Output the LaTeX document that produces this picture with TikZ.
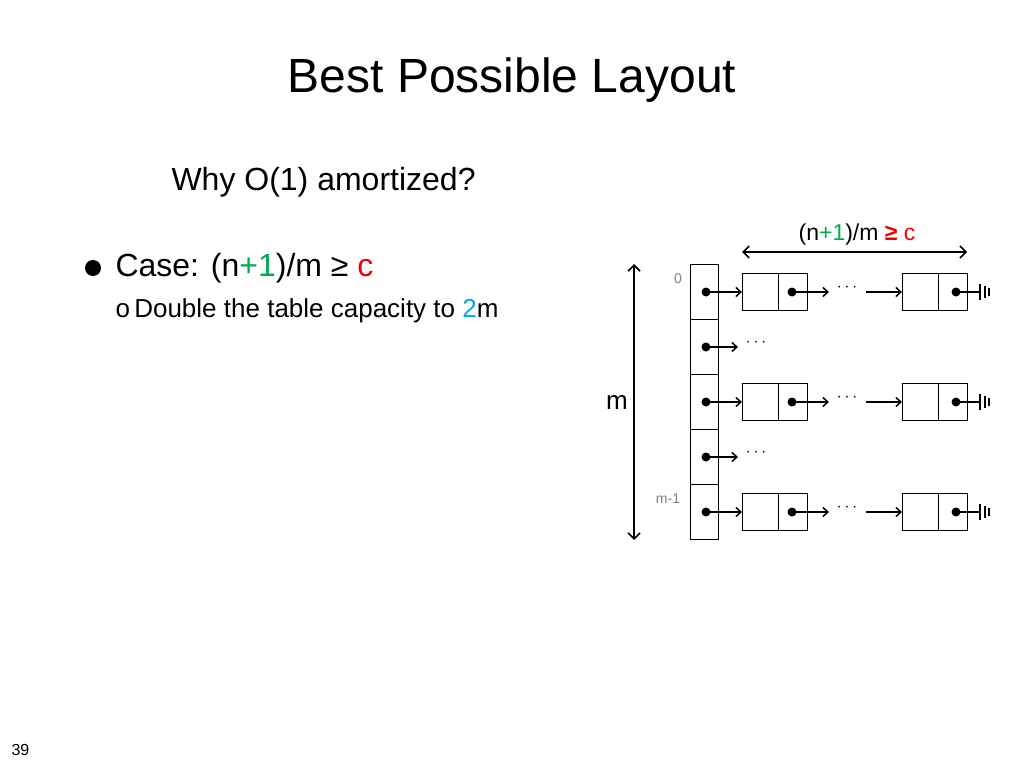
\documentclass[tikz,border=0pt]{standalone}
\usepackage{fontspec}
\setmainfont{Liberation Sans}
\usetikzlibrary{arrows.meta}
\definecolor{pgreen}{RGB}{0,170,80}
\definecolor{pred}{RGB}{240,0,0}
\definecolor{pblue}{RGB}{0,170,230}
\begin{document}
\begin{tikzpicture}[x=1pt,y=-1pt,
  cell/.style={draw,minimum width=#1,minimum height=37pt,inner sep=0,outer sep=0,line width=0.9pt},
  tcell/.style={draw,minimum width=28pt,minimum height=55pt,inner sep=0,outer sep=0,line width=0.9pt},
  dot/.style={circle,fill,inner sep=0,minimum size=9pt},
  ptr/.style={-{Straight Barb[length=5pt,width=9pt]},line width=1.5pt},
  dts/.style={font=\fontsize{18}{20}\selectfont},
  lbl/.style={text=gray,font=\fontsize{14}{16}\selectfont}]
\useasboundingbox (0,0) rectangle (1024,768);
\node[font=\fontsize{48}{56}\selectfont] (title) at (512,80) {Best Possible Layout};
\node[anchor=west,font=\fontsize{32}{38}\selectfont] (why) at (168,182) {Why O(1) amortized?};
\node[circle,fill,inner sep=0,minimum size=16pt] (b1) at (93,268) {};
\node[anchor=west,font=\fontsize{32}{38}\selectfont] (case) at (112,268) {Case: (n\textcolor{pgreen}{+1})/m ≥ \textcolor{pred}{c}};
\node[anchor=west,font=\fontsize{26}{30}\selectfont] (sub) at (112,311) {o\,Double the table capacity to \textcolor{pblue}{2}m};
\node[anchor=west,font=\fontsize{16}{18}\selectfont] (pg) at (8,750) {39};
% table
\foreach \i/\y in {0/292,1/347,2/402,3/457,4/512}{
  \node[tcell] (t\i) at (704,\y) {};
  \node[dot] (d\i) at (706,\y) {};
}
\node[lbl] (l0) at (678,279) {0};
\node[lbl] (l4) at (668,499) {m-1};
\foreach \i/\y in {0/292,2/402,4/512}{
  \node[cell=36pt] (a\i) at (760,\y) {};
  \node[cell=29pt] (b\i) at (792.5,\y) {};
  \node[dot] (e\i) at (792,\y) {};
  \node[dts] (g\i) at (847,\y-4) {$\cdots$};
  \coordinate (s\i) at (866,\y);
  \node[cell=36pt] (c\i) at (920,\y) {};
  \node[cell=29pt] (f\i) at (952.5,\y) {};
  \node[dot] (h\i) at (956,\y) {};
  \coordinate (z\i) at (980,\y);
  \draw[ptr] (d\i.center) -- (a\i.west);
  \draw[ptr] (e\i.center) -- (829,\y);
  \draw[ptr] (s\i) -- (c\i.west);
  \draw[line width=1.5pt] (h\i.center) -- (z\i);
  \draw[line width=2pt] (z\i)++(0,-8) -- ++(0,16);
  \draw[line width=1.6pt] (z\i)++(5,-6) -- ++(0,12);
  \draw[line width=1.6pt] (z\i)++(9,-4) -- ++(0,8);
}
\foreach \i/\y in {1/347,3/457}{
  \node[dts] (g\i) at (756,\y-4) {$\cdots$};
  \draw[ptr] (d\i.center) -- (738,\y);
}
% dimension arrows
\coordinate (mt) at (634,264);
\coordinate (mb) at (634,540);
\draw[{Straight Barb[length=6pt,width=12pt]}-{Straight Barb[length=6pt,width=12pt]},line width=1.6pt] (mt) -- (mb);
\node[font=\fontsize{26}{30}\selectfont] (m) at (617,402) {m};
\coordinate (hl) at (742,252);
\coordinate (hr) at (967,252);
\draw[{Straight Barb[length=6pt,width=12pt]}-{Straight Barb[length=6pt,width=12pt]},line width=1.6pt] (hl) -- (hr);
\node[font=\fontsize{23}{26}\selectfont] (ratio) at (857,235) {(n\textcolor{pgreen}{+1})/m \textcolor{pred}{\textbf{≥} c}};
\end{tikzpicture}
\end{document}
